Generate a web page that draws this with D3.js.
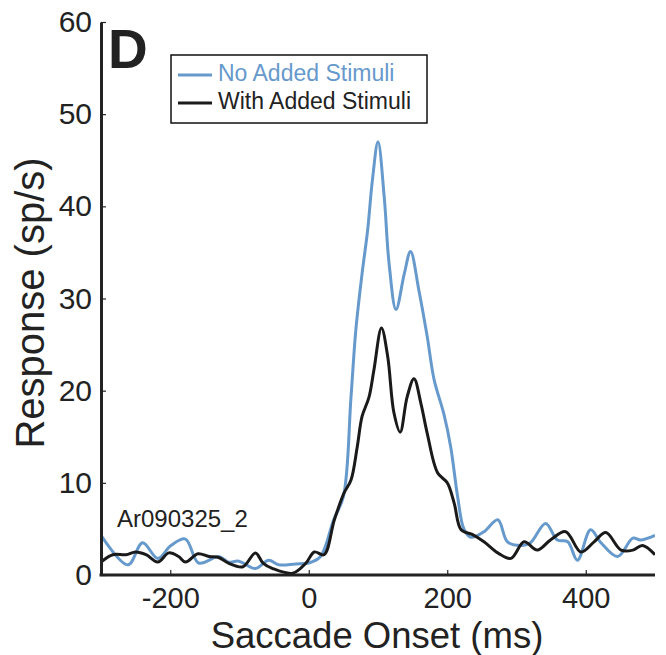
<!DOCTYPE html>
<html>
<head>
<meta charset="utf-8">
<script src="https://cdn.jsdelivr.net/npm/d3@7"></script>
<style>
  body { margin: 0; background: #fff; }
  text { font-family: "Liberation Sans", Arial, sans-serif; fill: #222; }
</style>
</head>
<body>
<div id="chart"></div>
<script>
// No Added Stimuli (blue)
var blueT = [-300, -261, -240, -218, -199, -178, -159, -130, -116, -101, -77, -58, -43, -19, 0,
  17, 36, 50, 61, 68, 77, 85, 92, 100, 109, 116, 126, 138, 147, 159, 171, 181, 195, 205, 215, 224,
  234, 253, 273, 287, 306, 320, 342, 359, 374, 388, 407, 422, 446, 468, 479, 500];
var blueV = [4.3, 1.1, 3.5, 1.8, 3.2, 3.9, 1.3, 2.0, 1.4, 1.5, 0.7, 1.6, 1.1, 1.2, 1.3,
  2.0, 6.0, 8.5, 19.3, 26.6, 32.7, 37.4, 42.9, 47, 41, 33.8, 28.8, 32.7, 35.1, 30.9, 25.9, 21.2, 17.5, 13.9, 8.5, 5.0,
  4.1, 4.7, 6.0, 3.6, 3.2, 3.5, 5.6, 3.8, 3.6, 1.6, 4.9, 3.5, 2.0, 4.0, 3.8, 4.3];

// With Added Stimuli (black)
var blackT = [-300, -283, -264, -250, -235, -218, -202, -188, -178, -160, -144, -130, -116, -95, -77, -66,
  -52, -23, -4, 8, 22, 37, 51, 61, 70, 77, 87, 94, 105, 114, 123, 132, 142, 152, 162, 171, 186, 200, 210, 220,
  236, 253, 273, 292, 311, 330, 349, 371, 393, 412, 429, 451, 468, 482, 500];
var blackV = [1.4, 2.2, 2.2, 2.5, 2.2, 1.4, 2.4, 2.0, 1.4, 2.3, 2.0, 1.9, 1.3, 0.9, 2.4, 1.3,
  0.7, 0.2, 1.3, 2.5, 2.2, 6.0, 8.9, 10.3, 13.9, 17.2, 19.3, 22.2, 26.8, 23.7, 17.6, 15.5, 19.3, 21.3, 18.6, 15.4, 11.1, 10, 7.8, 4.9,
  4.4, 3.6, 2.4, 1.8, 3.6, 2.7, 3.8, 4.7, 2.5, 3.6, 4.6, 2.7, 2.7, 3.2, 2.2];

var xTicks = [-200, 0, 200, 400];
var yTicks = [0, 10, 20, 30, 40, 50, 60];
var legendLabels = ["No Added Stimuli", "With Added Stimuli"];
var colors = ["#6699cc", "#1a1a1a"];

var width = 666, height = 655;
var margin = { top: 22, right: 11, bottom: 80, left: 101 };

var svg = d3.select("#chart").append("svg")
  .attr("width", width)
  .attr("height", height);

var x = d3.scaleLinear().domain([-300, 500]).range([margin.left, width - margin.right]);
var y = d3.scaleLinear().domain([0, 60]).range([height - margin.bottom, margin.top]);

var line = d3.line()
  .x(function (d) { return x(d[0]); })
  .y(function (d) { return y(d[1]); })
  .curve(d3.curveCatmullRom.alpha(0.5));

var series = [
  d3.zip(blueT, blueV),
  d3.zip(blackT, blackV)
];

// clip so lines don't spill past the axes
svg.append("clipPath").attr("id", "clip")
  .append("rect")
  .attr("x", x(-300)).attr("y", 0)
  .attr("width", x(500) - x(-300)).attr("height", y(0));

svg.append("g").attr("clip-path", "url(#clip)")
  .selectAll("path")
  .data(series)
  .enter()
  .append("path")
  .attr("d", line)
  .attr("fill", "none")
  .attr("stroke", function (d, i) { return colors[i]; })
  .attr("stroke-width", 3)
  .attr("stroke-linejoin", "round");

// x axis
var xAxis = svg.append("g")
  .attr("transform", "translate(0," + y(0) + ")")
  .call(d3.axisBottom(x).tickValues(xTicks).tickSizeInner(-5).tickSizeOuter(0).tickPadding(12)
    .tickFormat(function (d) { return d < 0 ? "-" + Math.abs(d) : d; }));
xAxis.select(".domain").attr("stroke", "#222").attr("stroke-width", 3)
  .attr("d", "M" + (x(-300) - 1.5) + ",0H" + x(500));
xAxis.selectAll(".tick line").attr("stroke", "#222").attr("stroke-width", 1.2);
xAxis.selectAll(".tick text").attr("font-size", 29).attr("fill", "#222")
  .style("font-family", "'Liberation Sans', Arial, sans-serif");

// y axis
var yAxis = svg.append("g")
  .attr("transform", "translate(" + x(-300) + ",0)")
  .call(d3.axisLeft(y).tickValues(yTicks).tickSizeInner(-5).tickSizeOuter(0).tickPadding(9));
yAxis.select(".domain").attr("stroke", "#222").attr("stroke-width", 3);
yAxis.selectAll(".tick line").attr("stroke", "#222").attr("stroke-width", 1.2);
yAxis.selectAll(".tick text").attr("font-size", 30).attr("fill", "#222")
  .style("font-family", "'Liberation Sans', Arial, sans-serif");

// axis titles
svg.append("text")
  .attr("x", 377)
  .attr("y", 648)
  .attr("text-anchor", "middle")
  .attr("font-size", 36.5)
  .text("Saccade Onset (ms)");

svg.append("text")
  .attr("transform", "translate(44,303) rotate(-90)")
  .attr("text-anchor", "middle")
  .attr("font-size", 40)
  .text("Response (sp/s)");

// panel letter
svg.append("text")
  .attr("x", 108)
  .attr("y", 68)
  .attr("font-size", 55)
  .attr("font-weight", "bold")
  .text("D");

// unit id
svg.append("text")
  .attr("x", 117)
  .attr("y", 527)
  .attr("font-size", 24)
  .text("Ar090325_2");

// legend
var legend = svg.append("g").attr("transform", "translate(171,55)");
legend.append("rect")
  .attr("width", 256).attr("height", 68)
  .attr("fill", "#fff").attr("stroke", "#111").attr("stroke-width", 1.5);
var items = legend.selectAll(".item")
  .data(legendLabels)
  .enter()
  .append("g")
  .attr("transform", function (d, i) { return "translate(0," + (20 + i * 28) + ")"; });
items.append("line")
  .attr("x1", 7).attr("x2", 41)
  .attr("stroke", function (d, i) { return colors[i]; })
  .attr("stroke-width", 3);
items.append("text")
  .attr("x", 47).attr("y", 6)
  .attr("font-size", 23)
  .style("fill", function (d, i) { return i === 0 ? colors[0] : "#222"; })
  .text(function (d) { return d; });
</script>
</body>
</html>
